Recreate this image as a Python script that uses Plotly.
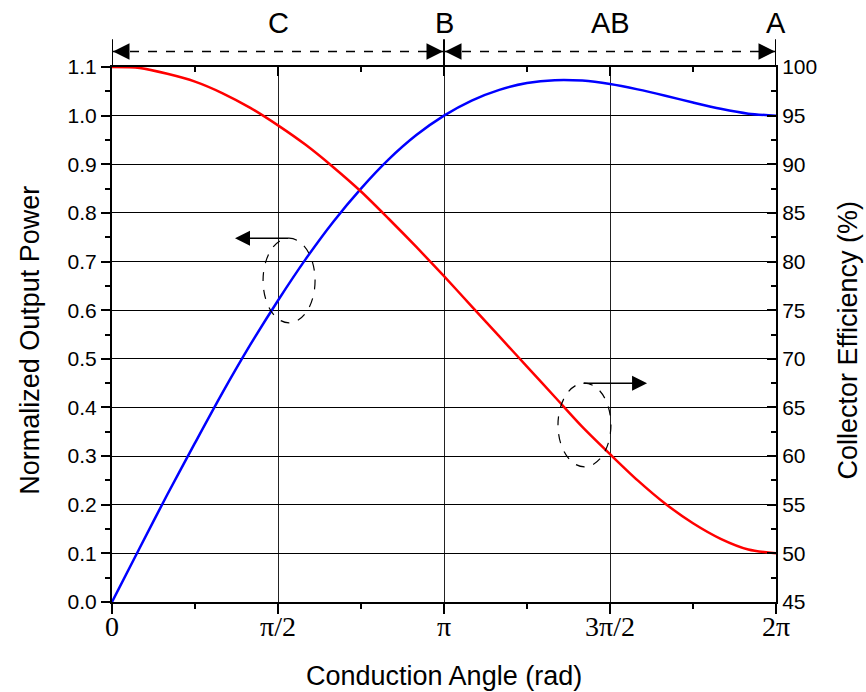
import plotly.graph_objects as go

# Conduction angle (degrees; 360 deg = 2*pi rad)
angle_deg = [0, 15, 30, 45, 60, 75, 90, 105, 120, 135, 150, 165, 180,
             195, 210, 225, 240, 255, 270, 285, 300, 315, 330, 345, 360]
# Normalized output power (left axis)
power = [0.000, 0.111, 0.221, 0.327, 0.431, 0.529, 0.620, 0.705, 0.782, 0.850,
         0.910, 0.960, 1.000, 1.031, 1.053, 1.067, 1.073, 1.072, 1.065, 1.054,
         1.041, 1.027, 1.014, 1.004, 1.000]
# Collector efficiency in % (right axis)
efficiency = [100.0, 99.9, 99.3, 98.5, 97.3, 95.8, 94.0, 92.0, 89.7, 87.2,
              84.4, 81.5, 78.5, 75.4, 72.3, 69.2, 66.1, 63.0, 60.2, 57.5,
              55.1, 53.1, 51.5, 50.4, 50.0]

x_tickvals = [0, 90, 180, 270, 360]
x_ticktext = ["0", "\u03c0/2", "\u03c0", "3\u03c0/2", "2\u03c0"]
x_minor = [45, 135, 225, 315]

class_labels = ["C", "B", "AB", "A"]
class_label_x = [90, 180, 270, 360]
class_bounds = [0, 180, 360]

SANS = "Liberation Sans, Arial, sans-serif"
SERIF = "Liberation Serif, Times New Roman, serif"

fig = go.Figure()
fig.add_trace(go.Scatter(x=angle_deg, y=power, mode="lines",
                         line=dict(color="#0000FF", width=2.5, shape="spline", smoothing=0.8),
                         xaxis="x", yaxis="y", showlegend=False))
fig.add_trace(go.Scatter(x=angle_deg, y=efficiency, mode="lines",
                         line=dict(color="#FF0000", width=2.5, shape="spline", smoothing=0.8),
                         xaxis="x2", yaxis="y2", showlegend=False))

fig.update_layout(
    width=866, height=692,
    margin=dict(l=112, r=90, t=67, b=90),
    paper_bgcolor="white", plot_bgcolor="white",
    xaxis=dict(range=[0, 360], tickmode="array", tickvals=x_tickvals,
               showticklabels=False,
               ticks="outside", ticklen=10, tickwidth=2, tickcolor="black",
               minor=dict(tickvals=x_minor, ticks="outside", ticklen=5, tickwidth=2,
                          tickcolor="black", showgrid=False),
               showline=True, linecolor="black", linewidth=2,
               showgrid=True, gridcolor="#222222", gridwidth=1, zeroline=False),
    xaxis2=dict(range=[0, 360], overlaying="x", side="top", tickmode="array",
                tickvals=x_tickvals, showticklabels=False,
                ticks="inside", ticklen=9, tickwidth=2, tickcolor="black",
                minor=dict(tickvals=x_minor, ticks="inside", ticklen=5, tickwidth=2,
                           tickcolor="black", showgrid=False),
                showline=True, linecolor="black", linewidth=2,
                showgrid=False, zeroline=False),
    yaxis=dict(range=[0, 1.1], tickmode="linear", tick0=0, dtick=0.1, tickformat=".1f",
               tickfont=dict(family=SANS, size=21, color="black"),
               ticks="outside", ticklen=9, tickwidth=2, tickcolor="black",
               minor=dict(tick0=0, dtick=0.05, ticks="outside", ticklen=5, tickwidth=2,
                          tickcolor="black", showgrid=False),
               showline=True, linecolor="black", linewidth=2,
               showgrid=True, gridcolor="black", gridwidth=1, zeroline=False),
    yaxis2=dict(range=[45, 100], overlaying="y", side="right", tickmode="linear",
                tick0=45, dtick=5,
                tickfont=dict(family=SANS, size=21, color="black"),
                ticks="inside", ticklen=9, tickwidth=2, tickcolor="black",
                minor=dict(tick0=45, dtick=2.5, ticks="inside", ticklen=5, tickwidth=2,
                           tickcolor="black", showgrid=False),
                showline=True, linecolor="black", linewidth=2,
                showgrid=False, zeroline=False),
)

annotations = []
# X tick labels (serif, as in the original)
for tv, tt in zip(x_tickvals, x_ticktext):
    annotations.append(dict(text=tt, xref="x", yref="paper", x=tv, y=-0.014,
                            showarrow=False, xanchor="center", yanchor="top",
                            font=dict(family=SERIF, size=28, color="black")))
# Axis titles
annotations.append(dict(text="Conduction Angle (rad)", xref="paper", yref="paper",
                        x=0.5, y=-0.138, showarrow=False, xanchor="center", yanchor="middle",
                        font=dict(family=SANS, size=27, color="black")))
annotations.append(dict(text="Normalized Output Power", xref="paper", yref="paper",
                        x=-0.1235, y=0.49, showarrow=False, textangle=-90,
                        xanchor="center", yanchor="middle",
                        font=dict(family=SANS, size=27, color="black")))
annotations.append(dict(text="Collector Efficiency (%)", xref="paper", yref="paper",
                        x=1.108, y=0.49, showarrow=False, textangle=-90,
                        xanchor="center", yanchor="middle",
                        font=dict(family=SANS, size=27, color="black")))
# Class labels on top
for lab, lx in zip(class_labels, class_label_x):
    annotations.append(dict(text=lab, xref="x", yref="paper", x=lx, y=1.082,
                            showarrow=False, xanchor="center", yanchor="middle",
                            font=dict(family=SANS, size=29, color="black")))

arrow_y = 1.029
shapes = []
for b in class_bounds:
    shapes.append(dict(type="line", xref="x", yref="paper", x0=b, x1=b, y0=1.0, y1=1.052,
                       line=dict(color="black", width=2)))
for a, b in zip(class_bounds[:-1], class_bounds[1:]):
    shapes.append(dict(type="line", xref="x", yref="paper", x0=a, x1=b, y0=arrow_y, y1=arrow_y,
                       line=dict(color="black", width=1.5, dash="dash")))
    annotations.append(dict(text="", xref="x", yref="paper", x=a, y=arrow_y, ax=16, ay=0,
                            showarrow=True, arrowhead=2, arrowsize=2.2, arrowwidth=1.5,
                            arrowcolor="black", standoff=1))
    annotations.append(dict(text="", xref="x", yref="paper", x=b, y=arrow_y, ax=-16, ay=0,
                            showarrow=True, arrowhead=2, arrowsize=2.2, arrowwidth=1.5,
                            arrowcolor="black", standoff=1))

# Dashed ellipses indicating which axis each curve uses
shapes.append(dict(type="circle", xref="x", yref="y", x0=81.9, x1=110.1, y0=0.574, y1=0.748,
                   line=dict(color="black", width=1.2, dash="dash")))
shapes.append(dict(type="circle", xref="x", yref="y", x0=241.8, x1=270.5, y0=0.278, y1=0.450,
                   line=dict(color="black", width=1.2, dash="dash")))
annotations.append(dict(text="", xref="x", yref="y", x=66.7, y=0.748, axref="x", ayref="y",
                        ax=96.5, ay=0.748, showarrow=True, arrowhead=2, arrowsize=2,
                        arrowwidth=1.5, arrowcolor="black", standoff=0))
annotations.append(dict(text="", xref="x", yref="y", x=290.1, y=0.450, axref="x", ayref="y",
                        ax=254.8, ay=0.450, showarrow=True, arrowhead=2, arrowsize=2,
                        arrowwidth=1.5, arrowcolor="black", standoff=0))

fig.update_layout(annotations=annotations, shapes=shapes)
fig.write_html("out.html")
